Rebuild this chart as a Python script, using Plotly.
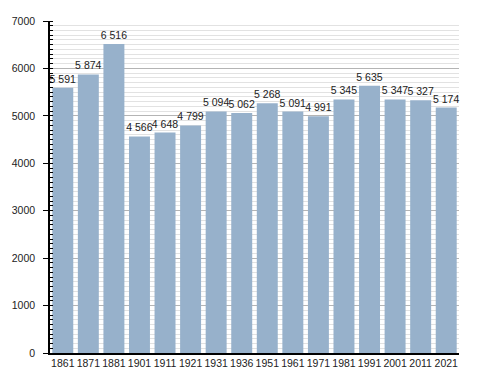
import plotly.graph_objects as go

years = ["1861", "1871", "1881", "1901", "1911", "1921", "1931", "1936",
         "1951", "1961", "1971", "1981", "1991", "2001", "2011", "2021"]
population = [5591, 5874, 6516, 4566, 4648, 4799, 5094, 5062,
              5268, 5091, 4991, 5345, 5635, 5347, 5327, 5174]
labels = [f"{v:,}".replace(",", " ") for v in population]

fig = go.Figure(go.Bar(
    x=years, y=population, text=labels, textposition="outside",
    constraintext="none",
    marker=dict(color="#97b1cb", line=dict(width=0)),
    textfont=dict(family="Liberation Sans, Arial, sans-serif", size=10.5, color="#222"),
    cliponaxis=False,
))

# the page body adds an 8px offset; size/margins compensate so the plot lands as in the reference
fig.update_layout(
    width=480, height=365,
    margin=dict(l=42, r=29, t=13, b=20),
    plot_bgcolor="white", paper_bgcolor="white",
    bargap=0.18, showlegend=False,
    font=dict(family="Liberation Sans, Arial, sans-serif", size=10, color="#222"),
)
fig.update_xaxes(
    showline=True, linecolor="black", linewidth=1.5, ticks="",
    showgrid=False, tickfont=dict(size=10.5), ticklabelstandoff=0,
    automargin=False,
)
fig.update_yaxes(
    range=[0, 7000], dtick=1000, showline=True, linecolor="black", linewidth=1.5,
    ticks="outside", ticklen=5, tickcolor="black", tickwidth=1,
    showgrid=True, gridcolor="#b4b4b4", gridwidth=1, zeroline=False,
    tickfont=dict(size=10.5), ticklabelstandoff=6, automargin=False,
    minor=dict(dtick=100, showgrid=True, gridcolor="#e2e2e2", gridwidth=1,
               ticks="inside", ticklen=3, tickcolor="black", tickwidth=1),
)

fig.write_html("out.html")
